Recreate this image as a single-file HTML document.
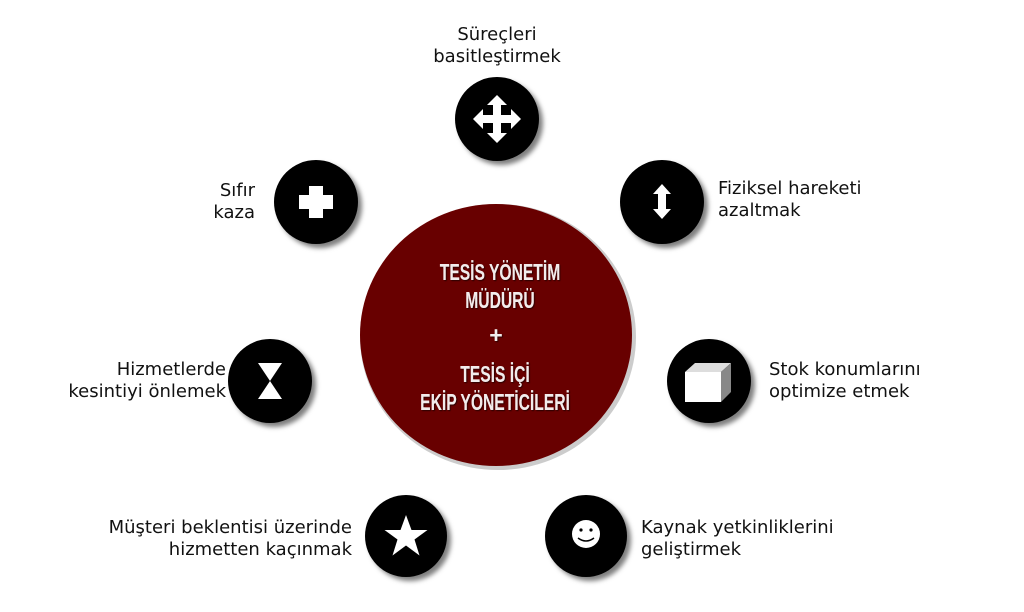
<!DOCTYPE html>
<html><head><meta charset="utf-8"><style>
html,body{margin:0;padding:0;background:#fff;}
svg{display:block}
.t{font-family:"DejaVu Sans","Liberation Sans",sans-serif;font-size:18px;fill:#111;}
.c{font-family:"Liberation Sans",sans-serif;font-weight:bold;font-size:23px;fill:#f2ecec;}
</style></head><body>
<svg width="1024" height="612" viewBox="0 0 1024 612">
<defs>
<filter id="sh" x="-30%" y="-30%" width="160%" height="160%"><feDropShadow dx="4" dy="4" stdDeviation="2.5" flood-color="#000" flood-opacity="0.5"/></filter>
<filter id="ts"><feDropShadow dx="1" dy="1" stdDeviation="0.5" flood-color="#000" flood-opacity="0.6"/></filter>
</defs>
<ellipse cx="498" cy="337" rx="138" ry="133" fill="#999" opacity="0.5"/>
<ellipse cx="496" cy="335" rx="136" ry="131" fill="#680000"/>
<g class="c" text-anchor="middle" filter="url(#ts)">
<text x="500" y="280" transform="translate(500 0) scale(0.68 1) translate(-500 0)">TESİS YÖNETİM</text>
<text x="500" y="308" transform="translate(500 0) scale(0.68 1) translate(-500 0)">MÜDÜRÜ</text>
<text x="496" y="343">+</text>
<text x="495" y="382" transform="translate(495 0) scale(0.68 1) translate(-495 0)">TESİS İÇİ</text>
<text x="495" y="410" transform="translate(495 0) scale(0.68 1) translate(-495 0)">EKİP YÖNETİCİLERİ</text>
</g>
<g fill="#000" filter="url(#sh)">
<circle cx="497" cy="119" r="42"/>
<circle cx="316" cy="202" r="42"/>
<circle cx="662" cy="202" r="42"/>
<circle cx="709" cy="381" r="42"/>
<circle cx="270" cy="381" r="42"/>
<circle cx="406" cy="536" r="41"/>
<circle cx="586" cy="536" r="41"/>
</g>
<g fill="#fff">
<rect x="493" y="104" width="8" height="30"/>
<rect x="482" y="115" width="30" height="8"/>
<path d="M497,95 l10,10 h-20z M497,143 l10,-10 h-20z M473,119 l10,-10 v20z M521,119 l-10,-10 v20z"/>
<path d="M309,186 h14 v9 h10 v14 h-10 v9 h-14 v-9 h-10 v-14 h10z"/>
<path d="M662,184 l9,10 h-5 v15 h5 l-9,10 -9,-10 h5 v-15 h-5z"/>
<path d="M685,372 l10,-9 h36 l-10,9z" fill="#ddd"/>
<path d="M721,372 l10,-9 v29 l-10,10z" fill="#888"/>
<rect x="685" y="372" width="36" height="30"/>
<path d="M258,363 h24 l-12,18z M258,399 h24 l-12,-18z"/>
<path d="M406,515 l5.5,15 h16 l-13,9.5 5,16 -13.5,-10 -13.5,10 5,-16 -13,-9.5 h16z"/>
<circle cx="586" cy="534" r="14"/>
</g>
<g fill="#000"><circle cx="581" cy="530" r="1.6"/><circle cx="591" cy="530" r="1.6"/></g>
<path d="M578,538 q8,6 16,0" stroke="#000" stroke-width="1.5" fill="none"/>
<g class="t">
<text x="497" y="40" text-anchor="middle">Süreçleri</text>
<text x="497" y="62" text-anchor="middle">basitleştirmek</text>
<text x="255" y="196" text-anchor="end">Sıfır</text>
<text x="255" y="218" text-anchor="end">kaza</text>
<text x="718" y="194">Fiziksel hareketi</text>
<text x="718" y="216">azaltmak</text>
<text x="769" y="375">Stok konumlarını</text>
<text x="769" y="397">optimize etmek</text>
<text x="226" y="375" text-anchor="end">Hizmetlerde</text>
<text x="226" y="397" text-anchor="end">kesintiyi önlemek</text>
<text x="352" y="533" text-anchor="end">Müşteri beklentisi üzerinde</text>
<text x="352" y="555" text-anchor="end">hizmetten kaçınmak</text>
<text x="641" y="533">Kaynak yetkinliklerini</text>
<text x="641" y="555">geliştirmek</text>
</g>
</svg>
</body></html>
